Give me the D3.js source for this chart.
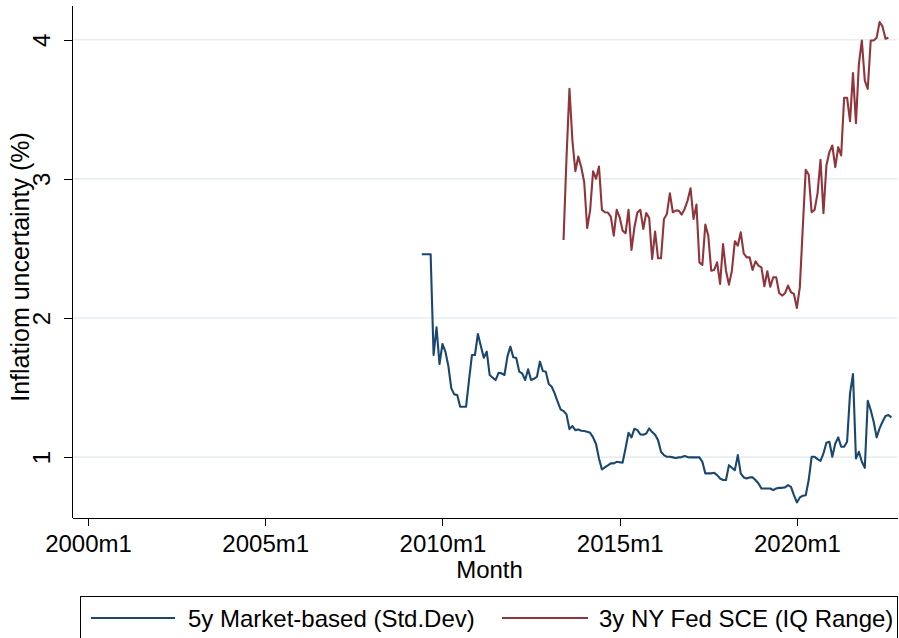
<!DOCTYPE html>
<html>
<head>
<meta charset="utf-8">
<script src="https://cdn.jsdelivr.net/npm/d3@7"></script>
<style>
  html, body { margin: 0; padding: 0; background: #fff; }
  svg { display: block; font-family: "Liberation Sans", Arial, Helvetica, sans-serif; }
</style>
</head>
<body>
<svg id="chart"></svg>
<script>
// series start month (year, month) and monthly values
const marketStart = [2009, 6];
const marketValues = [
  2.458, 2.458, 2.458, 2.458, 1.734, 1.933, 1.669,
  1.813, 1.758, 1.655, 1.494, 1.451, 1.446, 1.362, 1.362, 1.362, 1.554, 1.734, 1.734,
  1.885, 1.799, 1.714, 1.758, 1.590, 1.571, 1.554, 1.606, 1.602, 1.590, 1.722, 1.794,
  1.717, 1.712, 1.614, 1.602, 1.554, 1.631, 1.554, 1.563, 1.578, 1.686, 1.619, 1.614,
  1.525, 1.506, 1.458, 1.398, 1.343, 1.331, 1.307, 1.201, 1.223, 1.194, 1.199, 1.189,
  1.187, 1.182, 1.175, 1.142, 1.094, 0.990, 0.911, 0.926, 0.940, 0.955, 0.955, 0.966,
  0.963, 0.960, 1.063, 1.175, 1.142, 1.204, 1.194, 1.163, 1.161, 1.170, 1.206, 1.180,
  1.160, 1.122, 1.038, 1.014, 1.002, 1.002, 0.998, 0.994, 0.998, 1.000, 1.007, 1.000,
  0.998, 0.998, 0.998, 0.998, 0.966, 0.883, 0.883, 0.883, 0.887, 0.870, 0.846, 0.835,
  0.835, 0.942, 0.923, 0.906, 1.014, 0.883, 0.854, 0.846, 0.854, 0.854, 0.835, 0.810,
  0.774, 0.774, 0.774, 0.774, 0.762, 0.774, 0.779, 0.779, 0.782, 0.798, 0.786, 0.726,
  0.674, 0.710, 0.722, 0.726, 0.835, 1.002, 1.002, 0.985, 0.973, 1.026, 1.103, 1.110,
  1.002, 1.098, 1.142, 1.074, 1.074, 1.110, 1.458, 1.597, 0.990, 1.038, 0.966, 0.923,
  1.405, 1.338, 1.254, 1.142, 1.206, 1.254, 1.295, 1.302, 1.286
];

const sceStart = [2013, 6];
const sceValues = [
  2.561, 3.150, 3.647, 3.276, 3.055, 3.161, 3.084,
  2.976, 2.647, 2.772, 3.055, 3.000, 3.089, 2.777, 2.760, 2.758, 2.729, 2.592, 2.777,
  2.724, 2.628, 2.609, 2.777, 2.489, 2.652, 2.758, 2.777, 2.640, 2.755, 2.719, 2.424,
  2.621, 2.429, 2.429, 2.712, 2.748, 2.897, 2.760, 2.772, 2.772, 2.743, 2.784, 2.844,
  2.933, 2.712, 2.815, 2.400, 2.381, 2.671, 2.592, 2.340, 2.345, 2.400, 2.245, 2.532,
  2.340, 2.240, 2.340, 2.552, 2.520, 2.616, 2.465, 2.436, 2.436, 2.345, 2.408, 2.376,
  2.364, 2.228, 2.336, 2.225, 2.293, 2.293, 2.180, 2.161, 2.178, 2.233, 2.185, 2.173,
  2.072, 2.220, 2.650, 3.065, 3.031, 2.760, 2.777, 2.897, 3.137, 2.753, 3.096, 3.192,
  3.240, 3.084, 3.228, 3.168, 3.583, 3.583, 3.415, 3.760, 3.400, 3.827, 3.995, 3.707,
  3.647, 3.995, 3.995, 4.014, 4.127, 4.096, 4.007, 4.014
];

// months counted from 2000m1
const xTickMonths = [0, 60, 120, 180, 240];
const xTickLabels = ['2000m1', '2005m1', '2010m1', '2015m1', '2020m1'];
const yTickValues = [1, 2, 3, 4];

const seriesNames = ['5y Market-based (Std.Dev)', '3y NY Fed SCE (IQ Range)'];
const seriesColors = ['#1a476f', '#90353b'];

const WIDTH = 899;
const HEIGHT = 638;
const FONT = 24;

const toPoints = (start, values) => values.map((v, i) => ({
  month: (start[0] - 2000) * 12 + (start[1] - 1) + i,
  value: v,
}));
const series = [toPoints(marketStart, marketValues), toPoints(sceStart, sceValues)];

const svg = d3.select('#chart')
  .attr('width', WIDTH)
  .attr('height', HEIGHT);

const xScale = d3.scaleLinear()
  .domain([-5.42, 273.9])
  .range([72, 897]);
const yScale = d3.scaleLinear()
  .domain([0.565, 4.25])
  .range([517.6, 5]);

// gridlines
svg.append('g')
  .selectAll('line')
  .data(yTickValues)
  .enter()
  .append('line')
  .attr('x1', xScale.range()[0])
  .attr('x2', xScale.range()[1])
  .attr('y1', d => yScale(d))
  .attr('y2', d => yScale(d))
  .attr('stroke', '#e6eef2')
  .attr('stroke-width', 1.6);

// lines
const line = d3.line()
  .x(d => xScale(d.month))
  .y(d => yScale(d.value));

svg.append('g')
  .selectAll('path')
  .data(series)
  .enter()
  .append('path')
  .attr('d', line)
  .attr('fill', 'none')
  .attr('stroke', (d, i) => seriesColors[i])
  .attr('stroke-width', 2.1)
  .attr('stroke-linejoin', 'round');

// axes
const bottomAxis = d3.axisBottom(xScale)
  .tickValues(xTickMonths)
  .tickFormat((d, i) => xTickLabels[i])
  .tickSize(8)
  .tickSizeOuter(0);
const leftAxis = d3.axisLeft(yScale)
  .tickValues(yTickValues)
  .tickFormat(d3.format('d'))
  .tickSize(8)
  .tickSizeOuter(0);

const gx = svg.append('g')
  .attr('transform', 'translate(0, 518)')
  .call(bottomAxis);
gx.selectAll('text')
  .attr('y', 34)
  .attr('dy', null)
  .attr('fill', '#000')
  .style('font-size', FONT + 'px')
  .style('font-family', 'inherit');

const gy = svg.append('g')
  .attr('transform', 'translate(72, 0)')
  .call(leftAxis);
gy.selectAll('text')
  .attr('x', 0)
  .attr('y', 0)
  .attr('dy', null)
  .attr('text-anchor', 'middle')
  .attr('transform', 'translate(-22, 0) rotate(-90)')
  .attr('fill', '#000')
  .style('font-size', FONT + 'px')
  .style('font-family', 'inherit');

[gx, gy].forEach(g => {
  g.selectAll('.domain, line')
    .attr('stroke', '#000')
    .attr('stroke-width', 1)
    .attr('shape-rendering', 'crispEdges');
});

// axis titles
svg.append('text')
  .attr('x', 489.5)
  .attr('y', 578)
  .attr('text-anchor', 'middle')
  .style('font-size', FONT + 'px')
  .text('Month');

svg.append('text')
  .attr('transform', 'translate(29, 267) rotate(-90)')
  .attr('text-anchor', 'middle')
  .style('font-size', '25px')
  .text('Inflatiom uncertainty (%)');

// legend
const legend = svg.append('g');
legend.append('rect')
  .attr('x', 80.5)
  .attr('y', 596.5)
  .attr('width', 817)
  .attr('height', 60)
  .attr('fill', '#fff')
  .attr('stroke', '#000')
  .attr('stroke-width', 1);

const legendX = [[91, 175, 188], [502, 588, 599]];
legend.selectAll('g.item')
  .data(seriesNames)
  .enter()
  .append('g')
  .attr('class', 'item')
  .each(function (name, i) {
    const g = d3.select(this);
    g.append('line')
      .attr('x1', legendX[i][0])
      .attr('x2', legendX[i][1])
      .attr('y1', 618)
      .attr('y2', 618)
      .attr('stroke', seriesColors[i])
      .attr('stroke-width', 2);
    g.append('text')
      .attr('x', legendX[i][2])
      .attr('y', 627)
      .style('font-size', FONT + 'px')
      .text(name);
  });
</script>
</body>
</html>
